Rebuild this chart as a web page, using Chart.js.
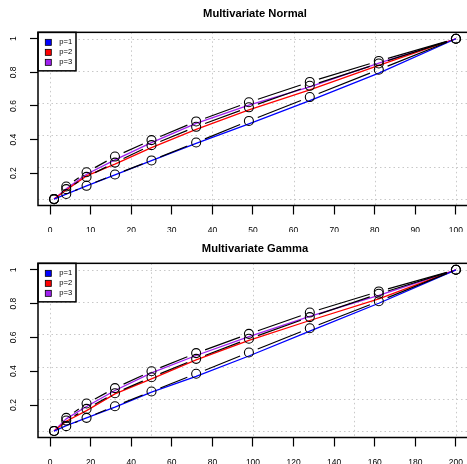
<!DOCTYPE html>
<html>
<head>
<meta charset="utf-8">
<script src="https://cdn.jsdelivr.net/npm/chart.js@4"></script>
<style>
  html, body { margin: 0; padding: 0; background: #fff; overflow: hidden; width: 467px; height: 464px; }
  canvas { display: block; }
</style>
</head>
<body>
<canvas id="normalChart" width="480" height="232"></canvas>
<canvas id="gammaChart" width="480" height="232"></canvas>
<script>
const seriesNames = ["p=1", "p=2", "p=3"];
const seriesColors = ["#0000ff", "#ff0000", "#a020f0"];

// Multivariate Normal
const xNormal = [1, 4, 9, 16, 25, 36, 49, 64, 81, 100];
const empNormal1 = [0.046, 0.076, 0.125, 0.192, 0.276, 0.383, 0.511, 0.653, 0.816, 1];
const empNormal2 = [0.046, 0.105, 0.178, 0.263, 0.367, 0.476, 0.592, 0.72, 0.853, 1];
const empNormal3 = [0.046, 0.121, 0.206, 0.299, 0.397, 0.508, 0.622, 0.743, 0.868, 1];
const fitNormal1 = [0.046, 0.076, 0.125, 0.19, 0.275, 0.378, 0.494, 0.632, 0.796, 1];
const fitNormal2 = [0.046, 0.1, 0.184, 0.254, 0.352, 0.461, 0.577, 0.696, 0.842, 1];
const fitNormal3 = [0.046, 0.108, 0.194, 0.279, 0.382, 0.496, 0.605, 0.714, 0.855, 1];

// Multivariate Gamma
const xGamma = [2, 8, 18, 32, 50, 72, 98, 128, 162, 200];
const empGamma1 = [0.046, 0.075, 0.124, 0.193, 0.28, 0.385, 0.511, 0.654, 0.814, 1];
const empGamma2 = [0.046, 0.108, 0.177, 0.27, 0.364, 0.473, 0.592, 0.72, 0.858, 1];
const empGamma3 = [0.046, 0.124, 0.209, 0.3, 0.4, 0.507, 0.621, 0.747, 0.872, 1];
const fitGamma1 = [0.046, 0.078, 0.124, 0.187, 0.276, 0.369, 0.49, 0.637, 0.802, 1];
const fitGamma2 = [0.046, 0.104, 0.167, 0.266, 0.355, 0.467, 0.582, 0.7, 0.828, 1];
const fitGamma3 = [0.046, 0.118, 0.191, 0.286, 0.39, 0.493, 0.605, 0.724, 0.848, 1];

const yTicks = [0.2, 0.4, 0.6, 0.8, 1];
const yTickLabels = ["0.2", "0.4", "0.6", "0.8", "1"];
const xTicksNormal = [0, 10, 20, 30, 40, 50, 60, 70, 80, 90, 100];
const xTicksGamma = [0, 20, 40, 60, 80, 100, 120, 140, 160, 180, 200];
const gridXNormal = [0, 20, 40, 60, 80, 100];
const gridXGamma = [0, 50, 100, 150, 200];
const gridY = [0.046, 0.2368, 0.4276, 0.6184, 0.8092, 1];

Chart.defaults.font.family = "'Liberation Sans', Arial, Helvetica, sans-serif";
Chart.defaults.color = "#000";

// R-like axis range: data range plus 4% each side
function padRange(values) {
  const lo = Math.min(...values), hi = Math.max(...values);
  const d = (hi - lo) * 0.04;
  return { min: lo - d, max: hi + d };
}

// type="b": leave a gap around each point
function gapDash(ctx) {
  const len = Math.hypot(ctx.p1.x - ctx.p0.x, ctx.p1.y - ctx.p0.y);
  const gap = 9.5;
  if (len <= 2 * gap) return [0, len + 1];
  return [0, gap, len - 2 * gap, gap + 1];
}

function makeChart(id, title, titlePad, xs, emp, fit, xTicks, gridX) {
  const datasets = [];
  // observed (black, circles) first so they sit on top
  for (let i = 0; i < 3; i++) {
    datasets.push({
      label: seriesNames[i] + " observed",
      data: xs.map((x, j) => ({ x: x, y: emp[i][j] })),
      borderColor: "#000",
      borderWidth: 1.2,
      pointRadius: 4.5,
      pointBorderColor: "#000",
      pointBackgroundColor: "rgba(0,0,0,0)",
      pointBorderWidth: 1.1,
      segment: { borderDash: gapDash },
    });
  }
  for (let i = 0; i < 3; i++) {
    datasets.push({
      label: seriesNames[i],
      data: xs.map((x, j) => ({ x: x, y: fit[i][j] })),
      borderColor: seriesColors[i],
      borderWidth: 1.3,
      pointRadius: 0,
    });
  }

  const xr = padRange(xs);
  const yr = padRange(emp.flat().concat(fit.flat()));

  const gridPlugin = {
    id: "dottedGrid",
    beforeDatasetsDraw(chart) {
      const { ctx, chartArea: a, scales } = chart;
      ctx.save();
      ctx.strokeStyle = "#c8c8c8";
      ctx.lineWidth = 1;
      ctx.setLineDash([1.5, 3]);
      gridX.forEach((v) => {
        const px = Math.round(scales.x.getPixelForValue(v)) + 0.5;
        ctx.beginPath(); ctx.moveTo(px, a.top); ctx.lineTo(px, a.bottom); ctx.stroke();
      });
      gridY.forEach((v) => {
        const py = Math.round(scales.y.getPixelForValue(v)) + 0.5;
        ctx.beginPath(); ctx.moveTo(a.left, py); ctx.lineTo(a.right, py); ctx.stroke();
      });
      ctx.restore();
    },
  };

  const legendBox = {
    id: "legendBox",
    afterDraw(chart) {
      const { ctx, chartArea: a } = chart;
      ctx.save();
      ctx.fillStyle = "#fff";
      ctx.fillRect(a.left, a.top, 38, 38.5);
      ctx.strokeStyle = "#000";
      ctx.lineWidth = 1.5;
      ctx.strokeRect(a.left, a.top, 38, 38.5);
      ctx.font = "7.6px 'Liberation Sans', Arial, sans-serif";
      ctx.textBaseline = "middle";
      seriesNames.forEach((name, i) => {
        const cy = a.top + 10 + 10 * i;
        ctx.fillStyle = seriesColors[i];
        ctx.fillRect(a.left + 7.3, cy - 3, 6, 6);
        ctx.lineWidth = 0.8;
        ctx.strokeRect(a.left + 7.3, cy - 3, 6, 6);
        ctx.fillStyle = "#000";
        ctx.fillText(name, a.left + 21.3, cy);
      });
      ctx.restore();
    },
  };

  const frame = {
    id: "frame",
    afterDraw(chart) {
      const { ctx, chartArea: a } = chart;
      ctx.save();
      ctx.strokeStyle = "#000";
      ctx.lineWidth = 1.5;
      ctx.strokeRect(a.left, a.top, a.right - a.left, a.bottom - a.top);
      ctx.restore();
    },
  };

  return new Chart(document.getElementById(id), {
    type: "line",
    data: { datasets: datasets },
    options: {
      responsive: false,
      animation: false,
      events: [],
      layout: { padding: { right: 8 } },
      elements: { line: { tension: 0 } },
      plugins: {
        legend: { display: false },
        tooltip: { enabled: false },
        title: {
          display: true,
          text: title,
          fullSize: false,
          color: "#000",
          font: { size: 11.2, weight: "bold" },
          padding: { top: titlePad[0], bottom: titlePad[1] },
        },
      },
      scales: {
        x: {
          type: "linear",
          min: xr.min,
          max: xr.max,
          afterBuildTicks: (s) => { s.ticks = xTicks.map((v) => ({ value: v })); },
          afterFit: (s) => { s.height = 26.5; },
          border: { display: false },
          grid: { drawOnChartArea: false, drawTicks: true, tickLength: 9, tickColor: "#000", tickWidth: 1.2 },
          ticks: {
            color: "#000",
            font: { size: 8.5 },
            padding: 11,
            autoSkip: false,
            maxRotation: 0,
            callback: (v, i) => String(xTicks[i]),
          },
        },
        y: {
          type: "linear",
          min: yr.min,
          max: yr.max,
          afterBuildTicks: (s) => { s.ticks = yTicks.map((v) => ({ value: v })); },
          afterFit: (s) => { s.width = 38; },
          border: { display: false },
          grid: { drawOnChartArea: false, drawTicks: true, tickLength: 8, tickColor: "#000", tickWidth: 1.2 },
          ticks: {
            color: "#000",
            font: { size: 8.5 },
            padding: 10.8,
            minRotation: 90,
            maxRotation: 90,
            crossAlign: "center",
            callback: (v, i) => yTickLabels[i],
          },
        },
      },
    },
    plugins: [gridPlugin, legendBox, frame],
  });
}

makeChart("normalChart", "Multivariate Normal", [7.3, 11.6], xNormal,
  [empNormal1, empNormal2, empNormal3], [fitNormal1, fitNormal2, fitNormal3],
  xTicksNormal, gridXNormal);
makeChart("gammaChart", "Multivariate Gamma", [10.3, 7.6], xGamma,
  [empGamma1, empGamma2, empGamma3], [fitGamma1, fitGamma2, fitGamma3],
  xTicksGamma, gridXGamma);
</script>
</body>
</html>
